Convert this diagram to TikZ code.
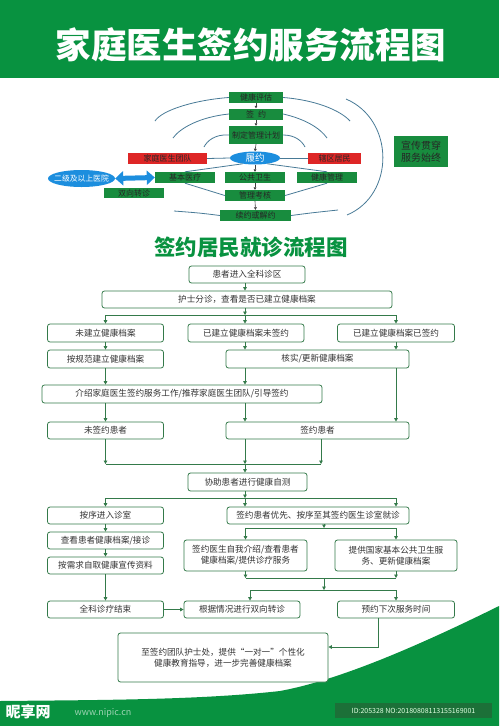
\documentclass[tikz,border=0pt]{standalone}
\usepackage{fontspec}
\setmainfont{Noto Sans CJK SC}
\usetikzlibrary{arrows.meta,shapes.geometric,calc}
\definecolor{bgreen}{RGB}{8,146,64}
\definecolor{tgreen}{RGB}{24,140,62}
\definecolor{tred}{RGB}{222,38,38}
\definecolor{tblue}{RGB}{28,142,222}
\definecolor{arcc}{RGB}{72,122,150}
\definecolor{fgreen}{RGB}{52,122,74}
\definecolor{ftext}{RGB}{50,50,50}
\definecolor{idgreen}{RGB}{28,112,56}
\begin{document}
\begin{tikzpicture}[x=1pt,y=-1pt,
  tb/.style={fill=tgreen, text=black!85, font=\fontsize{8}{9}\selectfont, inner sep=0pt, align=center, minimum height=11pt},
  rb/.style={fill=tred, text=black!85, font=\fontsize{8}{9}\selectfont, inner sep=0pt, minimum height=11pt},
  bell/.style={ellipse, fill=tblue, text=white, inner sep=0pt},
  tarr/.style={draw=black!75, line width=0.6pt, -{Triangle[length=2.5pt,width=2.8pt]}},
  tl/.style={draw=arcc, line width=0.8pt},
  dbl/.style={draw=tblue, line width=5pt, {Triangle[width=14pt,length=8pt]}-{Triangle[width=14pt,length=8pt]}},
  fb/.style={draw=fgreen, line width=0.8pt, rounded corners=2.5pt, fill=white, text=ftext, font=\fontsize{8.6}{11}\selectfont, inner sep=0pt, align=center, minimum height=17pt},
  fa/.style={draw=fgreen, line width=0.8pt, -{Triangle[length=3.5pt,width=3.6pt]}},
  fl/.style={draw=fgreen, line width=0.8pt}]
\useasboundingbox (0,0) rectangle (499,726);
% top band and bottom swoosh
\fill[bgreen] (0,0) rectangle (499,78);
\fill[bgreen] (499,606) .. controls (420,645) and (340,680) .. (280,691) .. controls (200,700) and (100,700) .. (0,701) -- (0,726) -- (499,726) -- cycle;
\node[text=white, font=\bfseries\fontsize{35.5}{37}\selectfont] (title) at (251,45) {家庭医生签约服务流程图};

% ---------- top diagram ----------
\node[tb, minimum width=54pt] (t1) at (256,97.5) {健康评估};
\node[tb, minimum width=54pt] (t2) at (256,114) {签\enspace 约};
\node[tb, minimum width=54pt, minimum height=18pt] (t3) at (256,135) {制定管理计划};
\node[bell, minimum width=50pt, minimum height=13pt, font=\fontsize{9.5}{10}\selectfont] (t4) at (255,158) {履约};
\node[rb, minimum width=79pt] (tL) at (167.5,158.5) {家庭医生团队};
\node[rb, minimum width=53pt] (tR) at (334.5,158) {辖区居民};
\node[tb, minimum width=60pt] (t5) at (255,177.5) {公共卫生};
\node[tb, minimum width=60pt] (tA) at (185,177.5) {基本医疗};
\node[tb, minimum width=60pt] (tB) at (327,177.5) {健康管理};
\node[tb, minimum width=60pt] (t6) at (255,195.5) {管理考核};
\node[tb, minimum width=71pt] (t7) at (255.5,215.5) {续约或解约};
\node[bell, minimum width=67pt, minimum height=17pt, inner xsep=-7pt, font=\fontsize{7.8}{9}\selectfont] (tH) at (81.5,178.5) {二级及以上医院};
\node[tb, minimum width=60pt, minimum height=10pt] (tD) at (134,193) {双向转诊};
\node[tb, minimum width=54pt, minimum height=31pt, font=\fontsize{10}{12}\selectfont] (tX) at (421,151.5) {宣传贯穿\\服务始终};

\draw[tarr] (t1.south) -- (t2.north);
\draw[tarr] (t2.south) -- (t3.north);
\draw[tarr] (t3.south) -- (t4.north);
\draw[tarr] (t4.south) -- (t5.north);
\draw[tarr] (t5.south) -- (t6.north);
\draw[tarr] (t6.south) -- (t7.north);
\draw[tl] (t4.west) -- (tL.east);
\draw[tl] (t4.east) -- (tR.west);
\draw[tl] (t4.205) -- (tA.north);
\draw[tl] (t4.-25) -- (tB.north);
\draw[tl] (tA.south) -- (t6.west);
\draw[tl] (tB.south) -- (t6.east);
\draw[dbl] (tH.east) -- (tA.west);
% decorative arcs
\draw[tl] (t1.west) .. controls (195,100) and (162,110) .. (155,121);
\draw[tl] (t2.west) .. controls (200,117) and (180,128) .. (173,138);
\draw[tl] (t3.west) .. controls (215,134) and (207,141) .. (204,147);
\draw[tl] (t7.west) .. controls (200,213) .. (174,211);
\draw[tl] (t1.east) .. controls (315,100) and (340,110) .. (350,121);
\draw[tl] (t2.east) .. controls (305,119) and (320,128) .. (327,138);
\draw[tl] (t3.east) .. controls (295,135) and (302,141) .. (305,147);
\draw[tl] (t7.east) .. controls (310,213) .. (338,210);
\draw[tl] (346,99) .. controls (395,120) and (395,195) .. (347,215);

% ---------- flowchart ----------
\node[text=bgreen, font=\bfseries\fontsize{21.5}{23}\selectfont] (title2) at (251,247) {签约居民就诊流程图};
\node[fb, minimum width=116pt] (n1) at (247,274.5) {患者进入全科诊区};
\node[fb, minimum width=290pt] (n2) at (247,299.5) {护士分诊，查看是否已建立健康档案};
\node[fb, minimum width=116pt, minimum height=18pt] (n3) at (105.5,333) {未建立健康档案};
\node[fb, minimum width=116pt, minimum height=18pt] (n4) at (246,333) {已建立健康档案未签约};
\node[fb, minimum width=117pt, minimum height=18pt] (n5) at (396,333) {已建立健康档案已签约};
\node[fb, minimum width=116pt, minimum height=18pt] (n6) at (105.5,359) {按规范建立健康档案};
\node[fb, minimum width=183pt, minimum height=18pt] (n7) at (317.5,359) {核实/更新健康档案};
\node[fb, minimum width=280pt, minimum height=18pt] (n8) at (182,394) {介绍家庭医生签约服务工作/推荐家庭医生团队/引导签约};
\node[fb, minimum width=116pt] (n9) at (105.5,430.5) {未签约患者};
\node[fb, minimum width=183pt] (n10) at (317.5,430.5) {签约患者};
\node[fb, minimum width=119pt, minimum height=18pt] (n11) at (247.5,482) {协助患者进行健康自测};
\node[fb, minimum width=116pt] (n12) at (105.5,515.5) {按序进入诊室};
\node[fb, minimum width=182pt] (n13) at (318,515.5) {签约患者优先、按序至其签约医生诊室就诊};
\node[fb, minimum width=116pt] (n14) at (105.5,540.5) {查看患者健康档案/接诊};
\node[fb, minimum width=116pt] (n15) at (105.5,565.5) {按需求自取健康宣传资料};
\node[fb, minimum width=123pt, minimum height=31pt] (n16) at (245.5,555.5) {签约医生自我介绍/查看患者\\健康档案/提供诊疗服务};
\node[fb, minimum width=122pt, minimum height=31pt] (n17) at (396,555.5) {提供国家基本公共卫生服\\务、更新健康档案};
\node[fb, minimum width=116pt] (n18) at (105.5,609.5) {全科诊疗结束};
\node[fb, minimum width=116pt] (n19) at (242,609.5) {根据情况进行双向转诊};
\node[fb, minimum width=117pt] (n20) at (396,609.5) {预约下次服务时间};
\node[fb, minimum width=210pt, minimum height=49pt] (n21) at (223,657.5) {至签约团队护士处，提供“一对一”个性化\\健康教育指导，进一步完善健康档案};

\draw[fa] (n1.south -| 245,0) -- (n2.north -| 245,0);
\coordinate (b1) at (245,315);
\draw[fa] (n2.south -| b1) -- (b1);
\draw[fl] (n3.north |- b1) -- (n5.north |- b1);
\draw[fa] (n3.north |- b1) -- (n3.north);
\draw[fa] (b1) -- (b1 |- n4.north);
\draw[fa] (n5.north |- b1) -- (n5.north);
\draw[fa] (n3.south) -- (n6.north);
\draw[fa] (n4.south -| b1) -- (n7.north -| b1);
\draw[fa] (n5.south) -- (n5.south |- n7.north);
\draw[fa] (n6.south) -- (n6.south |- n8.north);
\draw[fa] (n7.south -| b1) -- (n8.north -| b1);
\draw[fa] (n7.south -| n5.south) -- (n10.north -| n5.south);
\draw[fa] (n8.south -| n9.north) -- (n9.north);
\draw[fa] (n8.south -| b1) -- (n10.north -| b1);
\coordinate (m1) at (245,464);
\coordinate (m2) at (321,464);
\draw[fl] (n9.south |- m1) -- (m2);
\draw[fa] (n9.south) -- (n9.south |- m1);
\draw[fa] (n10.south -| m1) -- (m1);
\draw[fa] (n10.south -| m2) -- (m2);
\draw[fa] (m1) -- (m1 |- n11.north);
\coordinate (b2) at (245,498);
\coordinate (b2R) at (396,498);
\draw[fa] (n11.south -| b2) -- (b2);
\draw[fl] (n12.north |- b2) -- (b2R);
\draw[fa] (n12.north |- b2) -- (n12.north);
\draw[fa] (b2) -- (b2 |- n13.north);
\draw[fa] (b2R) -- (b2R |- n13.north);
\draw[fa] (n12.south) -- (n14.north);
\draw[fa] (n14.south) -- (n15.north);
\draw[fa] (n15.south) -- (n18.north);
\coordinate (b3) at (324,528);
\draw[fa] (n13.south -| b3) -- (b3);
\draw[fl] (n16.north |- b3) -- (n17.north |- b3);
\draw[fa] (n16.north |- b3) -- (n16.north);
\draw[fa] (n17.north |- b3) -- (n17.north);
\coordinate (b4) at (324,578);
\draw[fl] (n16.south |- b4) -- (n17.south |- b4);
\draw[fa] (n16.south) -- (n16.south |- b4);
\draw[fa] (n17.south) -- (n17.south |- b4);
\coordinate (b5) at (324,590);
\coordinate (b5L) at (250,590);
\draw[fa] (b4) -- (b5);
\draw[fl] (b5L) -- (b5 -| n20.north);
\draw[fa] (b5L) -- (b5L |- n19.north);
\draw[fa] (b5 -| n20.north) -- (n20.north);
\draw[fa] (n18.east) -- (n19.west);
\coordinate (c1) at (378,647);
\draw[fa] (n20.south -| c1) -- (c1) -- (c1 -| n21.east);

% footer texts
\node[text=white, font=\bfseries\fontsize{15}{16}\selectfont] (wm) at (28,712) {昵享网};
\node[text=white, opacity=0.6, font=\fontsize{9}{10}\selectfont] (wm2) at (103,713) {www.nipic.cn};
\node[fill=idgreen, text=white!88!green, font=\fontsize{7}{8}\selectfont, minimum width=157pt, minimum height=15pt, inner sep=0pt] (id) at (413.5,710.5) {ID:205328 NO:20180808113155169001};
\end{tikzpicture}
\end{document}
